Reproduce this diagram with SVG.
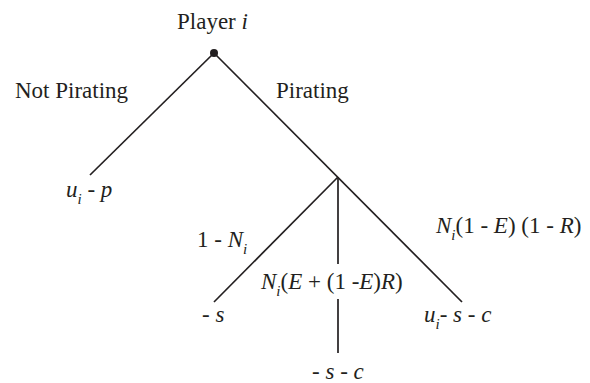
<svg xmlns="http://www.w3.org/2000/svg" width="590" height="383" viewBox="0 0 590 383">
<style>
text{font-family:'Liberation Serif','Times New Roman',serif;font-size:23px;fill:#231f20}
.it{font-style:italic}
.sub{font-style:italic;font-size:15px}
.edge{stroke:#231f20;stroke-width:1.7;fill:none}
</style>
<rect width="590" height="383" fill="#fff"/>
<g id="connectors">
<line class="edge" x1="214" y1="53" x2="90" y2="175"/>
<line class="edge" x1="214" y1="53" x2="462" y2="302"/>
<line class="edge" x1="338" y1="177" x2="214" y2="302"/>
<line class="edge" x1="338" y1="177" x2="338" y2="264"/>
<line class="edge" x1="338" y1="299" x2="338" y2="353"/>
</g>
<g id="root">
<circle cx="214" cy="53" r="4" fill="#231f20"/>
<text x="177" y="29">Player <tspan class="it">i</tspan></text>
</g>
<g id="edge-labels">
<text x="15" y="98">Not Pirating</text>
<text x="276" y="98">Pirating</text>
<text x="197" y="247">1 - <tspan class="it">N</tspan><tspan class="sub" dy="7">i</tspan></text>
<text x="261" y="289" class="it">N<tspan class="sub" dy="7">i</tspan><tspan dy="-7" font-style="normal">(</tspan>E<tspan font-style="normal"> + (1 -</tspan>E<tspan font-style="normal">)</tspan>R<tspan font-style="normal">)</tspan></text>
<text x="436" y="233" class="it">N<tspan class="sub" dy="7">i</tspan><tspan dy="-7" font-style="normal">(1 - </tspan>E<tspan font-style="normal">) (1 - </tspan>R<tspan font-style="normal">)</tspan></text>
</g>
<g id="leaf-not-pirating">
<text x="66" y="197" class="it">u<tspan class="sub" dy="7">i</tspan><tspan dy="-7" font-style="normal"> - </tspan>p</text>
</g>
<g id="leaf-s">
<text x="202" y="322"><tspan>- </tspan><tspan class="it">s</tspan></text>
</g>
<g id="leaf-s-c">
<text x="312" y="379">- <tspan class="it">s</tspan> - <tspan class="it">c</tspan></text>
</g>
<g id="leaf-u-s-c">
<text x="424" y="322" class="it">u<tspan class="sub" dy="7">i</tspan><tspan dy="-7" font-style="normal">- </tspan>s<tspan font-style="normal"> - </tspan>c</text>
</g>
</svg>
